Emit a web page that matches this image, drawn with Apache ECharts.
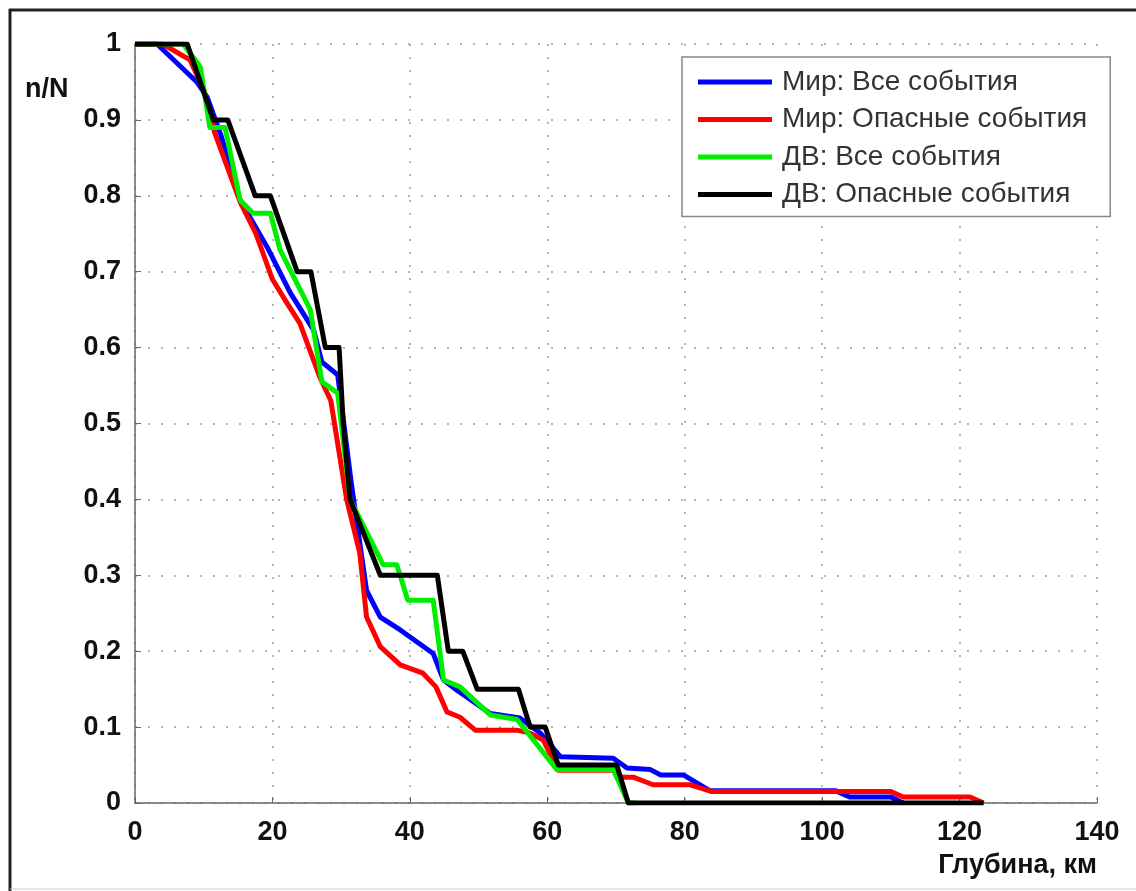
<!DOCTYPE html>
<html>
<head>
<meta charset="utf-8">
<script src="https://cdn.jsdelivr.net/npm/echarts@6/dist/echarts.min.js"></script>
<style>
  html, body { margin: 0; padding: 0; background: #fff; }
  #chart { width: 1136px; height: 891px; }
</style>
</head>
<body>
<div id="chart"></div>
<script>
// легенда
var seriesNames = ['Мир: Все события', 'Мир: Опасные события', 'ДВ: Все события', 'ДВ: Опасные события'];
var seriesColors = ['#0000ff', '#ff0000', '#00ee00', '#000000'];

// [глубина, n/N]
var worldAll = [[0, 1], [3.2, 1], [9, 0.95], [10.5, 0.93], [12.5, 0.88], [15.3, 0.794], [19.2, 0.733], [22.6, 0.672],
    [26, 0.623], [27.2, 0.581], [29.5, 0.564], [31.5, 0.42], [33.7, 0.28], [35.7, 0.245], [38.6, 0.228], [43.4, 0.197],
    [44.9, 0.162], [46.8, 0.149], [51.7, 0.118], [56, 0.112], [59, 0.092], [61.9, 0.061], [69.6, 0.059], [71.6, 0.046],
    [75, 0.044], [76.5, 0.037], [79.8, 0.037], [83.7, 0.016], [102, 0.016], [104, 0.008], [110, 0.008], [111.8, 0]];
var worldDanger = [[0, 1], [4, 1], [8, 0.979], [10, 0.94], [11.6, 0.883], [15.3, 0.792], [17.6, 0.75], [18.8, 0.72],
    [20, 0.69], [22.1, 0.659], [24, 0.632], [26.9, 0.561], [28.5, 0.53], [30.8, 0.4], [32.7, 0.33], [33.7, 0.245],
    [35.7, 0.206], [38.6, 0.182], [41.9, 0.171], [43.8, 0.153], [45.4, 0.12], [47.3, 0.113], [49.5, 0.096], [55.6, 0.096],
    [57.5, 0.092], [59.4, 0.083], [61.6, 0.043], [69.6, 0.043], [70.9, 0.034], [72.5, 0.034], [75.4, 0.024], [80.8, 0.024],
    [84, 0.015], [110, 0.015], [111.8, 0.008], [121.5, 0.008], [123.5, 0]];
var feAll = [[0, 1], [7, 1], [9.5, 0.97], [10.9, 0.89], [13.1, 0.89], [15.3, 0.794], [17.2, 0.777], [19.7, 0.777],
    [21.1, 0.729], [25.5, 0.65], [27.2, 0.555], [29.5, 0.54], [31.3, 0.4], [36.1, 0.314], [38.1, 0.314], [39.7, 0.267],
    [43.4, 0.267], [44.9, 0.162], [47.3, 0.153], [51.7, 0.116], [55.6, 0.11], [61.4, 0.044], [69.6, 0.044], [71.8, 0], [73, 0]];
var feDanger = [[0, 1], [7.6, 1], [11.4, 0.9], [13.5, 0.9], [17.5, 0.8], [19.7, 0.8], [23.6, 0.7], [25.6, 0.7],
    [27.7, 0.6], [29.7, 0.6], [30.3, 0.5], [31.3, 0.4], [35.7, 0.3], [44, 0.3], [45.6, 0.2], [47.7, 0.2],
    [49.8, 0.15], [55.8, 0.15], [57.5, 0.1], [59.7, 0.1], [61.6, 0.05], [70.1, 0.05], [71.8, 0], [123.5, 0]];

var allData = [worldAll, worldDanger, feAll, feDanger];

var chart = echarts.init(document.getElementById('chart'));
var font = '"Liberation Sans", Arial, Helvetica, sans-serif';
var gridDots = { show: true, lineStyle: { color: '#9a9a9a', width: 1.5, type: [2, 11] } };

var option = {
    backgroundColor: '#fff',
    animation: false,
    grid: { left: 135, right: 39, top: 44, bottom: 88 },
    xAxis: {
        type: 'value', min: 0, max: 140, interval: 20,
        axisLine: { show: true, lineStyle: { color: '#666', width: 1.5 } },
        axisTick: { show: true, inside: true, length: 6, lineStyle: { color: '#666' } },
        axisLabel: { color: '#111', fontSize: 27, fontWeight: 'bold', fontFamily: font, margin: 16 },
        splitLine: gridDots
    },
    yAxis: {
        type: 'value', min: 0, max: 1, interval: 0.1,
        axisLine: { show: true, lineStyle: { color: '#666', width: 1.5 } },
        axisTick: { show: true, inside: true, length: 6, lineStyle: { color: '#666' } },
        axisLabel: { color: '#111', fontSize: 27, fontWeight: 'bold', fontFamily: font, margin: 14 },
        splitLine: gridDots
    },
    legend: {
        data: seriesNames,
        orient: 'vertical',
        left: 682, top: 57,
        padding: [10, 23, 7, 16],
        itemGap: 7.5,
        itemWidth: 74, itemHeight: 5,
        icon: 'rect',
        borderColor: '#888', borderWidth: 1.5,
        backgroundColor: '#fff',
        textStyle: { color: '#333', fontSize: 28, fontFamily: font, lineHeight: 30, padding: [0, 0, 0, 5] }
    },
    graphic: [
        { type: 'text', left: 25, top: 76, style: { text: 'n/N', font: 'bold 27px ' + font, fill: '#111' } },
        { type: 'text', right: 39, top: 852, style: { text: 'Глубина, км', font: 'bold 27px ' + font, fill: '#111' } },
        { type: 'line', shape: { x1: 9, y1: 10, x2: 1136, y2: 10 }, style: { stroke: '#222', lineWidth: 3 } },
        { type: 'line', shape: { x1: 10, y1: 9, x2: 10, y2: 891 }, style: { stroke: '#222', lineWidth: 3 } },
        { type: 'line', shape: { x1: 10, y1: 889, x2: 1136, y2: 889 }, style: { stroke: '#ccc', lineWidth: 1 } }
    ],
    series: []
};

seriesNames.forEach(function (name, i) {
    option.series.push({
        name: name,
        type: 'line',
        data: allData[i],
        symbol: 'none',
        color: seriesColors[i],
        lineStyle: { width: 5, color: seriesColors[i], join: 'round' },
        z: 2 + i
    });
});

chart.setOption(option);
</script>
</body>
</html>
